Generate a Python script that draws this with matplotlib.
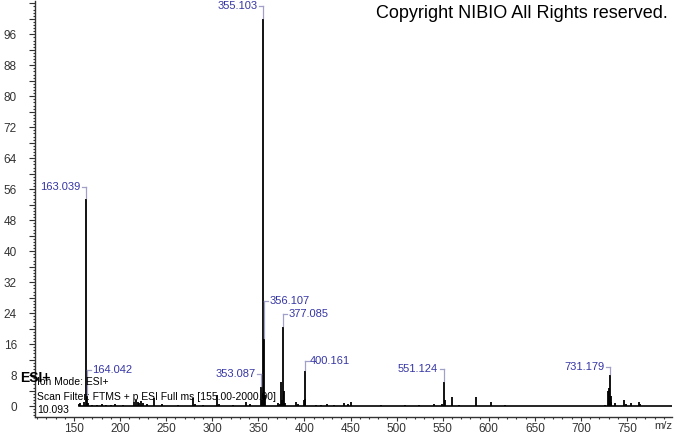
import matplotlib
matplotlib.use("Agg")
import matplotlib.pyplot as plt
from matplotlib.ticker import MultipleLocator, FuncFormatter

plt.rcParams['font.family'] = ['Liberation Sans', 'DejaVu Sans']

# m/z and relative intensity of the peaks
mz = [155.0, 157.0, 161.0, 163.039, 164.042, 165.05, 170.0, 175.0, 180.0, 185.0,
      190.0, 195.0, 203.0, 215.0, 217.0, 219.0, 221.0, 223.0, 225.0, 229.0,
      237.0, 245.0, 263.0, 279.0, 281.0, 290.0, 305.0, 307.0, 322.0, 337.0,
      341.0, 353.087, 354.09, 355.103, 356.107, 357.11, 371.0, 373.5, 375.07, 376.09,
      377.085, 378.09, 379.0, 391.0, 393.0, 399.15, 400.161, 401.16, 413.0, 418.0,
      425.0, 432.0, 443.0, 447.0, 451.0, 483.0, 509.0, 524.0, 541.0, 549.0,
      551.124, 552.13, 560.0, 568.0, 586.0, 602.0, 618.0, 726.0, 729.2, 730.17,
      731.179, 732.18, 733.0, 737.0, 747.0, 749.0, 754.0, 763.0, 764.0]
intensity = [0.5, 0.8, 1.2, 53.5, 2.5, 0.8, 0.4, 0.3, 0.5, 0.4,
             0.3, 0.5, 0.4, 1.2, 1.5, 1.0, 0.8, 1.3, 0.8, 0.5,
             2.0, 0.5, 0.4, 2.0, 0.6, 0.3, 3.0, 0.5, 0.4, 1.2,
             0.6, 5.0, 1.5, 100.0, 17.3, 3.0, 0.8, 0.5, 6.3, 1.5,
             20.5, 4.0, 0.8, 1.0, 0.6, 1.5, 9.0, 1.8, 0.4, 0.3,
             0.5, 0.3, 0.8, 0.5, 1.0, 0.3, 0.3, 0.3, 0.6, 0.5,
             6.3, 1.5, 2.3, 0.4, 2.3, 1.2, 0.4, 0.4, 4.0, 4.8,
             8.0, 2.5, 1.0, 0.8, 1.5, 0.6, 0.8, 1.0, 0.6]

# labelled peaks
label_mz = [163.039, 164.042, 355.103, 356.107, 353.087, 377.085, 400.161, 551.124, 731.179]
label_int = [53.5, 2.5, 100.0, 17.3, 5.0, 20.5, 9.0, 6.3, 8.0]
# layout of the labels: height of the label and side of the text
label_y = [56.5, 9.3, 103.2, 27.1, 8.3, 23.7, 11.6, 9.5, 10.0]
label_side = ['l', 'r', 'l', 'r', 'l', 'r', 'r', 'l', 'l']

W, H = 674, 434
fig = plt.figure(figsize=(W / 100, H / 100), dpi=100)
ax = fig.add_axes([35 / W, 1 - 417 / H, 637 / W, 416 / H])

ax.vlines(mz, 0, intensity, color='black', lw=1.3)
ax.plot([155, 799], [0, 0], color='black', lw=1.2)

px_per_mz = 637 / (798.8 - 107.7)
for m, v, ly, side in zip(label_mz, label_int, label_y, label_side):
    ax.plot([m, m], [v + 0.3, ly], color='#a0a0c8', lw=0.9)
    d = 4 / px_per_mz
    if side == 'l':
        ax.plot([m - d, m], [ly, ly], color='#a0a0c8', lw=0.9)
        ax.text(m - 5.5 / px_per_mz, ly, f"{m:.3f}", ha='right', va='center',
                fontsize=8, color='#3535a5')
    else:
        ax.plot([m, m + d], [ly, ly], color='#a0a0c8', lw=0.9)
        ax.text(m + 5.5 / px_per_mz, ly, f"{m:.3f}", ha='left', va='center',
                fontsize=8, color='#3535a5')

ax.set_xlim(107.7, 798.8)
ax.set_ylim(-2.8, 104.6)

for s in ['top', 'right']:
    ax.spines[s].set_visible(False)
for s in ['left', 'bottom']:
    ax.spines[s].set_color('#333333')
    ax.spines[s].set_linewidth(1.0)

ax.xaxis.set_major_locator(MultipleLocator(50))
ax.xaxis.set_minor_locator(MultipleLocator(10))
ax.yaxis.set_major_locator(MultipleLocator(4))
ax.yaxis.set_minor_locator(MultipleLocator(0.8))
ax.yaxis.set_major_formatter(FuncFormatter(
    lambda v, p: f"{int(round(v))}" if round(v) % 8 == 0 and 0 <= v <= 96 else ""))
ax.xaxis.set_major_formatter(FuncFormatter(lambda v, p: f"{int(v)}" if 150 <= v <= 750 else ""))
ax.tick_params(axis='both', which='major', length=3, width=0.8, color='#333333',
               labelsize=8.5, labelcolor='#333333')
ax.tick_params(axis='both', which='minor', length=1.6, width=0.8, color='#333333')
ax.tick_params(axis='y', which='major', length=4, pad=9)
ax.tick_params(axis='x', which='major', pad=1)

fig.text(663 / W, 1 - 426 / H, "m/z", ha='center', va='center', fontsize=8, color='#333333')
fig.text(668 / W, 1 - 14 / H, "Copyright NIBIO All Rights reserved.", ha='right', va='center',
         fontsize=13, color='black')
fig.text(20 / W, 1 - 378 / H, "ESI+", ha='left', va='center', fontsize=10, fontweight='bold')
fig.text(37 / W, 1 - 382 / H, "Ion Mode: ESI+", ha='left', va='center', fontsize=7.5)
fig.text(37 / W, 1 - 397 / H, "Scan Filter: FTMS + p ESI Full ms [155.00-2000.00]",
         ha='left', va='center', fontsize=7.5)
fig.text(37 / W, 1 - 410 / H, "10.093", ha='left', va='center', fontsize=7.5)

plt.savefig("out.png", dpi=100)
plt.close()
